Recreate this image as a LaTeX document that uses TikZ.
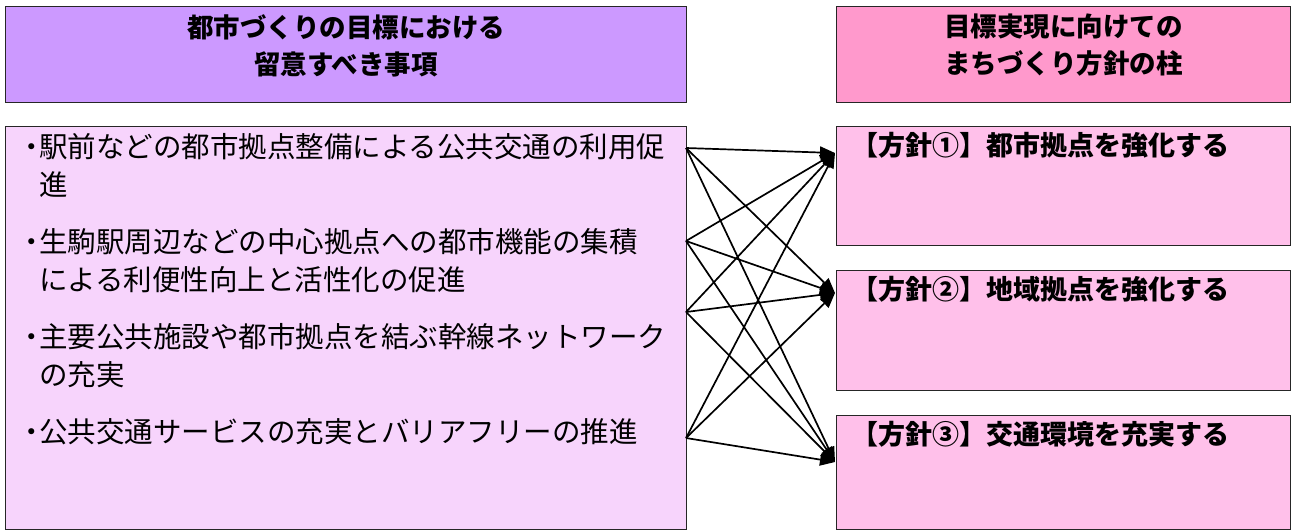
\documentclass[tikz,border=0pt]{standalone}
\usepackage{fontspec}
\newfontfamily\jpfont{Noto Sans CJK JP}[BoldFont={Noto Sans CJK JP Black}]
\usetikzlibrary{positioning,arrows.meta}
\definecolor{headpurple}{HTML}{CC99FF}
\definecolor{bodylilac}{HTML}{F7D4FC}
\definecolor{headpink}{HTML}{FF99CC}
\definecolor{bodypink}{HTML}{FFC0EA}
\newcommand{\bul}{\makebox[14pt][c]{・}}

\begin{document}
\begin{tikzpicture}[x=1pt, y=-1pt,
	rec/.style   = {draw=black!85, line width=1.2pt, rectangle, inner sep=0pt, anchor=north west},
	lhbox/.style = {rec, fill=headpurple, minimum width=681pt, minimum height=96pt},
	rhbox/.style = {rec, fill=headpink, minimum width=454pt, minimum height=96pt},
	lbbox/.style = {rec, fill=bodylilac, minimum width=681pt, minimum height=403pt},
	pbox/.style  = {rec, fill=bodypink, minimum width=454pt},
	headtxt/.style = {inner sep=0pt, align=center, font=\jpfont\bfseries\fontsize{26.5}{37}\selectfont},
	itemtxt/.style = {inner sep=0pt, align=left, anchor=north west, font=\jpfont\fontsize{28.5}{38}\selectfont},
	poltxt/.style  = {inner sep=0pt, anchor=north west, font=\jpfont\bfseries\fontsize{27}{34}\selectfont},
	link/.style = {->, line width=1.7pt},
	>={Triangle[length=15pt,width=12pt]}]
	
	\useasboundingbox (0,0) rectangle (1292,531);
	
	% headers of the two columns
	\node[lhbox] (lhead) at (5,6) {};
	\node[rhbox] (rhead) at (836,6) {};
	\node[headtxt, below=8pt of lhead.north] (lheadtxt) {都市づくりの目標における\\留意すべき事項};
	\node[headtxt, below=8pt of rhead.north] (rheadtxt) {目標実現に向けての\\まちづくり方針の柱};
	
	% left column, the points to keep in mind
	\node[lbbox] (items) at (5,126) {};
	\node[itemtxt, below right=7pt and 20pt of items.north west] (itemlist) {%
		\bul 駅前などの都市拠点整備による公共交通の利用促\\
		\phantom{\bul}進\\[19pt]
		\bul 生駒駅周辺などの中心拠点への都市機能の集積\\
		\phantom{\bul}による利便性向上と活性化の促進\\[19pt]
		\bul 主要公共施設や都市拠点を結ぶ幹線ネットワーク\\
		\phantom{\bul}の充実\\[19pt]
		\bul 公共交通サービスの充実とバリアフリーの推進};
	
	% right column, the three policies
	\node[pbox, minimum height=119pt] (p1) at (836,126) {};
	\node[pbox, minimum height=120pt] (p2) at (836,270) {};
	\node[pbox, minimum height=114pt] (p3) at (836,415) {};
	\node[poltxt, below right=6pt and 15pt of p1.north west] (p1txt) {【方針①】都市拠点を強化する};
	\node[poltxt, below right=6pt and 15pt of p2.north west] (p2txt) {【方針②】地域拠点を強化する};
	\node[poltxt, below right=6pt and 15pt of p3.north west] (p3txt) {【方針③】交通環境を充実する};
	
	% start and end points of the links
	\coordinate (s1) at (686,148);
	\coordinate (s2) at (686,241);
	\coordinate (s3) at (686,312);
	\coordinate (s4) at (686,438);
	\coordinate (t1) at (835,153);
	\coordinate (t2) at (835,293);
	\coordinate (t3) at (835,462);
	
	% every point leads to every policy
	\foreach \s in {1,...,4}
	\foreach \t in {1,...,3}
	\draw[link] (s\s) -- (t\t);
\end{tikzpicture}
\end{document}
